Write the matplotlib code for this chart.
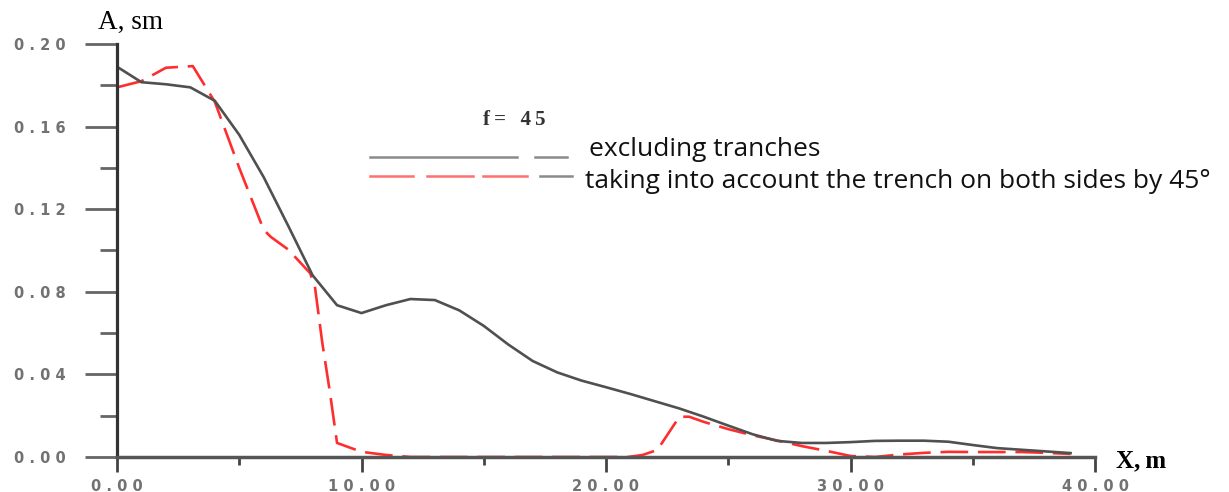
import matplotlib
matplotlib.use("Agg")
import matplotlib.pyplot as plt
from matplotlib.lines import Line2D

# amplitude A (sm) along the profile X (m), f = 45
x_plain = [0, 1, 2, 3, 4, 5, 6, 7, 8, 9, 10, 11, 12, 13, 14, 15, 16, 17, 18, 19,
           20, 21, 22, 23, 24, 25, 26, 27, 28, 29, 30, 31, 32, 33, 34, 35, 36, 37, 38, 39]
a_plain = [0.189, 0.1815, 0.1805, 0.179, 0.1725, 0.156, 0.1355, 0.112, 0.088, 0.0735,
           0.0697, 0.0735, 0.0765, 0.076, 0.071, 0.0635, 0.0545, 0.0465, 0.041, 0.037,
           0.0338, 0.0305, 0.027, 0.0235, 0.0195, 0.0152, 0.011, 0.0078, 0.0068, 0.0068,
           0.0072, 0.0078, 0.0079, 0.0079, 0.0074, 0.0058, 0.0043, 0.0035, 0.0027, 0.0019]

x_trench = [0, 1, 2, 3.1, 4, 5, 6, 6.3, 7, 7.9, 8.1, 8.4, 8.7, 9, 10, 11, 12, 14, 16, 18,
            20, 20.9, 21.5, 22.1, 23, 23.4, 24, 25, 26, 27, 28, 29, 30, 31, 32, 33, 34,
            35, 36, 37, 38, 39]
a_trench = [0.179, 0.182, 0.1885, 0.1893, 0.172, 0.140, 0.110, 0.1065, 0.1005, 0.089,
            0.082, 0.055, 0.032, 0.0068, 0.0025, 0.001, 0.0, 0.0, 0.0, 0.0,
            0.0, 0.0, 0.001, 0.0034, 0.0195, 0.0195, 0.017, 0.0135, 0.0105, 0.008,
            0.0053, 0.003, 0.0005, 0.0, 0.0012, 0.002, 0.0025, 0.0024, 0.0024, 0.0024,
            0.002, 0.0015]

x_major = [0, 10, 20, 30, 40]
x_minor = [5, 15, 25, 35]
y_major = [0.00, 0.04, 0.08, 0.12, 0.16, 0.20]
y_minor = [0.02, 0.06, 0.10, 0.14, 0.18]

W, H = 1229, 492


def spaced(s):
    # wide tick lettering
    return " ".join(s)


def fx(px):
    return px / W


def fy(py):
    return 1 - py / H


fig = plt.figure(figsize=(W / 100, H / 100), dpi=100)
ax = fig.add_axes([fx(117), 35 / H, 978 / W, 413 / H])

ax.plot(x_plain, a_plain, color="#505050", lw=1.9, solid_joinstyle="miter")
ax.plot(x_trench, a_trench, color="#ff2e2e", lw=1.9, dashes=(10.5, 3.7), zorder=1.5)

ax.set_xlim(0, 40)
ax.set_ylim(0, 0.20)
for s in ("top", "right"):
    ax.spines[s].set_visible(False)
ax.spines["left"].set_color("#333333")
ax.spines["left"].set_linewidth(2.3)
ax.spines["bottom"].set_color("#555555")
ax.spines["bottom"].set_linewidth(2.5)

ax.set_xticks(x_major)
ax.set_xticks(x_minor, minor=True)
ax.set_yticks(y_major)
ax.set_yticks(y_minor, minor=True)
ax.set_xticklabels([spaced(f"{v:.2f}") for v in x_major])
ax.set_yticklabels([spaced(f"{v:.2f}") for v in y_major])

ax.tick_params(axis="x", which="major", direction="out", length=10.5, width=2.0,
               color="#444444", pad=5)
ax.tick_params(axis="x", which="minor", direction="out", length=5.5, width=2.0,
               color="#444444")
ax.tick_params(axis="y", which="major", direction="out", length=23, width=2.0,
               color="#666666", pad=14)
ax.tick_params(axis="y", which="minor", direction="out", length=12, width=2.0,
               color="#666666")
for lab in ax.get_xticklabels() + ax.get_yticklabels():
    lab.set_fontfamily("DejaVu Sans")
    lab.set_fontweight("bold")
    lab.set_fontsize(10.5)
    lab.set_color("#727272")

serif = ["Liberation Serif", "DejaVu Serif"]
fig.text(fx(98), fy(29), "A, sm", family=serif, fontsize=19.5, va="baseline")
fig.text(fx(1116), fy(467), "X,\u2009m", family=serif, fontsize=18, fontweight="bold",
         va="baseline")
fig.text(fx(483), fy(125), "f\u2009=\u2002\u20094\u20095", family=serif, fontsize=15,
         fontweight="bold", va="baseline", color="#333333")

# legend keys
legend = [
    ((370, 517), 157, "#8a8a8a"),
    ((535, 567), 157, "#8a8a8a"),
    ((370, 413), 176, "#ff7070"),
    ((427, 473), 176, "#ff7070"),
    ((483, 527), 176, "#ff7070"),
    ((540, 572), 176, "#8a8a8a"),
]
for (x0, x1), yy, col in legend:
    fig.add_artist(Line2D([fx(x0), fx(x1)], [fy(yy), fy(yy)], color=col, lw=1.8,
                          transform=fig.transFigure))

fig.text(fx(589), fy(156), "excluding tranches", family=["Open Sans", "DejaVu Sans"],
         fontsize=19, va="baseline", color="#111111")
fig.text(fx(585), fy(188), "taking into account the trench on both sides by 45°",
         family=["Open Sans", "DejaVu Sans"], fontsize=19, va="baseline",
         color="#111111")

fig.savefig("out.png", dpi=100)
